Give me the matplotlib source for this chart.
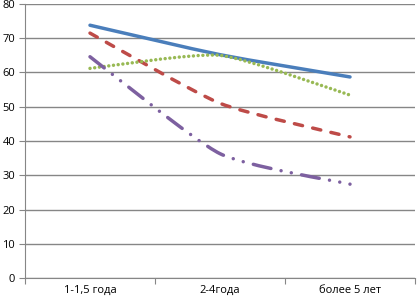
import matplotlib
matplotlib.use('Agg')
import matplotlib.pyplot as plt
from matplotlib.path import Path
from matplotlib.patches import PathPatch
import numpy as np

categories = ['1-1,5 года', '2-4года', 'более 5 лет']
blue = [73.8, 65.2, 58.7]
red = [71.5, 51.0, 41.2]
green = [61.2, 65.0, 53.4]
purple = [64.6, 36.3, 27.4]

plt.rcParams['font.family'] = ['Open Sans', 'DejaVu Sans']
plt.rcParams['lines.scale_dashes'] = False

fig = plt.figure(figsize=(4.18, 3.03), dpi=100)
ax1 = fig.add_axes([25/418, 25/303, 390/418, 274/303])


def smooth_path(ys, k=10.0):
    # smoothed line as cubic Bezier segments (mild tension)
    pts = np.array([[i, y] for i, y in enumerate(ys)], dtype=float)
    ext = np.vstack([pts[0], pts, pts[-1]])
    verts = [pts[0]]
    codes = [Path.MOVETO]
    for i in range(len(pts) - 1):
        p0, p1, p2, p3 = ext[i], ext[i+1], ext[i+2], ext[i+3]
        c1 = p1 + (p2 - p0) / k
        c2 = p2 - (p3 - p1) / k
        verts += [c1, c2, p2]
        codes += [Path.CURVE4] * 3
    return Path(verts, codes)


LW = 2.5
series = [
    (blue, '#4A7EBB', '-'),
    (red, '#BE4B48', (0, (6.0, 7.5))),
    (green, '#98B954', (0, (0.01, 3.4))),
    (purple, '#7D60A0', (0, (13.0, 7.5, 0.01, 7.5, 0.01, 7.5))),
]
for ys, col, ls in series:
    p = PathPatch(smooth_path(ys), facecolor='none', edgecolor=col, lw=LW,
                  linestyle=ls, capstyle='round', joinstyle='round', zorder=3)
    ax1.add_patch(p)

ax1.set_xlim(-0.5, 2.5)
ax1.set_ylim(0, 80)
ax1.set_yticks(np.arange(0, 81, 10))
ax1.grid(which='major', axis='y', color='#868686', linewidth=1.0)
ax1.set_axisbelow(True)

ax1.set_xticks([-0.5, 0.5, 1.5, 2.5])
ax1.set_xticklabels([])
ax1.set_xticks([0, 1, 2], minor=True)
ax1.set_xticklabels(categories, minor=True)
ax1.tick_params(axis='x', which='minor', length=0, pad=5, labelsize=8)
ax1.tick_params(axis='x', which='major', length=4, color='#868686', direction='out')
ax1.tick_params(axis='y', length=4, color='#868686', labelsize=8, pad=3)

ax1.spines['right'].set_visible(False)
ax1.spines['top'].set_visible(False)
ax1.spines['left'].set_color('#868686')
ax1.spines['bottom'].set_color('#868686')

plt.savefig('out.png', dpi=100)
